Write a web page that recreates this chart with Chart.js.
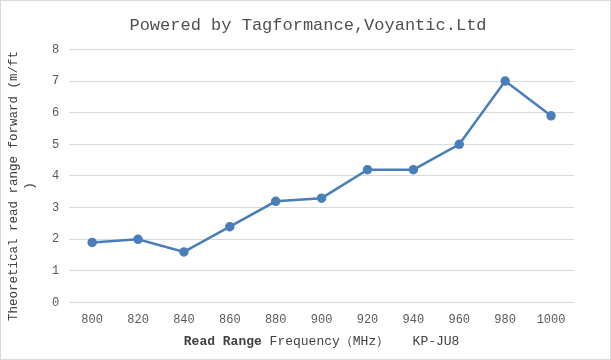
<!DOCTYPE html>
<html>
<head>
<meta charset="utf-8">
<script src="https://cdn.jsdelivr.net/npm/chart.js@4"></script>
<style>
  html, body { margin: 0; padding: 0; background: #fff; }
  #wrap { position: relative; width: 609px; height: 358px; border: 1px solid #d9d9d9; }
</style>
</head>
<body>
<div id="wrap"><canvas id="chart"></canvas></div>
<script>
// ===========================
// Read range chart
// ===========================

const frequencies = ['800', '820', '840', '860', '880', '900', '920', '940', '960', '980', '1000'];
const readRange = [1.9, 2.0, 1.6, 2.4, 3.2, 3.3, 4.2, 4.2, 5.0, 7.0, 5.9];

const chartTitle = 'Powered by Tagformance,Voyantic.Ltd';
const yAxisTitle = ['Theoretical read range forward (m/ft', ')'];
const xTitleBold = 'Read Range';
const xTitleRest = ' Frequency\uFF08MHz\uFF09   KP-JU8';

const MONO = '"Liberation Mono", "DejaVu Sans Mono", monospace';

// Titulos de los ejes dibujados a mano (negrita parcial en X)
const axisTitlesPlugin = {
    id: 'axisTitles',
    afterDraw(chart) {
        const ctx = chart.ctx;
        const area = chart.chartArea;
        ctx.save();
        ctx.textBaseline = 'middle';
        ctx.fillStyle = '#404040';

        // eje X
        const boldFont = 'bold 13px ' + MONO;
        const normFont = '13px ' + MONO;
        ctx.font = boldFont;
        const w1 = ctx.measureText(xTitleBold).width;
        ctx.font = normFont;
        const w2 = ctx.measureText(xTitleRest).width;
        let x = (area.left + area.right) / 2 - (w1 + w2) / 2;
        ctx.textAlign = 'left';
        ctx.font = boldFont;
        ctx.fillText(xTitleBold, x, 341);
        ctx.font = normFont;
        ctx.fillText(xTitleRest, x + w1, 341);

        // eje Y (rotado)
        ctx.font = '12.5px ' + MONO;
        ctx.textAlign = 'center';
        ctx.translate(0, 185);
        ctx.rotate(-Math.PI / 2);
        yAxisTitle.forEach((line, i) => {
            ctx.fillText(line, 0, 13 + i * 16);
        });
        ctx.restore();
    }
};

new Chart(document.getElementById('chart'), {
    type: 'line',
    data: {
        labels: frequencies,
        datasets: [{
            data: readRange,
            borderColor: '#4a7ebb',
            backgroundColor: '#4a7ebb',
            borderWidth: 2.5,
            pointRadius: 3.5,
            pointHoverRadius: 3.5,
            tension: 0
        }]
    },
    options: {
        responsive: true,
        maintainAspectRatio: false,
        animation: false,
        layout: { padding: { top: 10, right: 36, bottom: 30, left: 41 } },
        plugins: {
            legend: { display: false },
            tooltip: { enabled: false },
            title: {
                display: true,
                text: chartTitle,
                color: '#505050',
                font: { family: MONO, size: 17, weight: 'normal' },
                padding: { top: 4, bottom: 14 }
            }
        },
        scales: {
            x: {
                offset: true,
                grid: { display: false },
                border: { display: false },
                ticks: { color: '#595959', font: { family: MONO, size: 12 }, maxRotation: 0, padding: 2 }
            },
            y: {
                min: 0,
                max: 8,
                grid: { color: '#d9d9d9', drawTicks: false },
                border: { display: false },
                ticks: { stepSize: 1, color: '#595959', font: { family: MONO, size: 12 }, padding: 10 }
            }
        }
    },
    plugins: [axisTitlesPlugin]
});
</script>
</body>
</html>
